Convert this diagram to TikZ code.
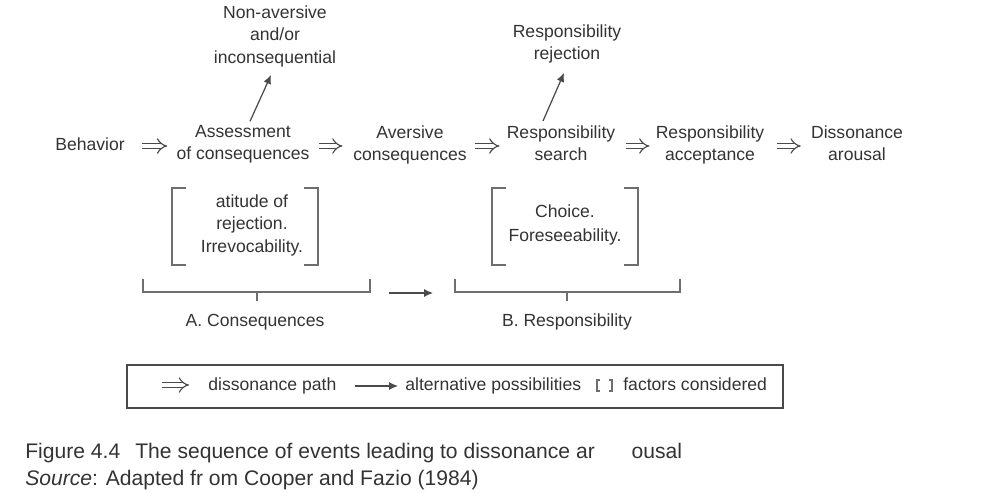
\documentclass[tikz,border=0pt]{standalone}
\usepackage{fontspec}
\setmainfont{Liberation Sans}
\usetikzlibrary{arrows.meta}
\definecolor{ink}{HTML}{333333}
\definecolor{rule}{HTML}{4A4A4A}

\begin{document}
\begin{tikzpicture}[x=0.2mm,y=-0.2mm]
\tikzset{
  lbl/.style={font=\fontsize{10}{12.5}\selectfont, align=center, text=ink, inner sep=0pt,
    execute at begin node=\strut, execute at end node=\strut},
  captext/.style={font=\fontsize{12}{14}\selectfont, text=ink, inner sep=0pt, anchor=base west},
  dpath/.style={draw=rule, line width=0.65pt, double distance=2.4pt, -{Implies}},
  alt/.style={draw=rule, line width=0.7pt, -{Latex[length=5pt,width=4.5pt]}},
  brk/.style={draw=rule!80, line width=0.8pt}
}
\useasboundingbox (0,0) rectangle (1000,493);

\node[lbl] (beh) at (90,146) {Behavior};
\node[lbl] (ac) at (243,146) {Assessment\\of consequences};
\node[lbl] (av) at (410,146) {Aversive\\consequences};
\node[lbl] (rs) at (561,146) {Responsibility\\search};
\node[lbl] (ra) at (710,146) {Responsibility\\acceptance};
\node[lbl] (da) at (857,146) {Dissonance\\arousal};

\node[lbl, font=\fontsize{10}{13}\selectfont] (nonav) at (275,38) {Non-aversive\\and/or\\inconsequential};
\node[lbl] (rej) at (567,45) {Responsibility\\rejection};

\draw[dpath, shorten <=3.4mm, shorten >=1.8mm] (beh) -- (ac);
\draw[dpath, shorten <=1.8mm, shorten >=2.1mm] (ac) -- (av);
\draw[dpath, shorten <=1.5mm, shorten >=1.4mm] (av) -- (rs);
\draw[dpath, shorten <=2mm, shorten >=1.2mm] (rs) -- (ra);
\draw[dpath, shorten <=2.4mm, shorten >=2mm] (ra) -- (da);

\draw[alt] ([shift={(7,-4)}]ac.north) -- ([shift={(-4,4)}]nonav.south);
\draw[alt] ([shift={(-18,-4)}]rs.north) -- ([shift={(-3,7)}]rej.south);

\node[lbl, font=\fontsize{10}{13}\selectfont] (fa) at (252,227) {atitude of\\rejection.\\Irrevocability.};
\node[lbl, font=\fontsize{10}{13.5}\selectfont] (fb) at (565,227) {Choice.\\Foreseeability.};

\draw[brk] (186,188) -- (172,188) -- (172,265) -- (186,265);
\draw[brk] (304,188) -- (318,188) -- (318,265) -- (304,265);
\draw[brk] (506,188) -- (492,188) -- (492,265) -- (506,265);
\draw[brk] (624,188) -- (638,188) -- (638,265) -- (624,265);

\node[lbl] (ca) at (255,322) {A. Consequences};
\node[lbl] (cb) at (567,322) {B. Responsibility};

\draw[brk] (143,279) -- (143,292) -- (370,292) -- (370,279);
\draw[brk] (257,292) -- (257,301);
\draw[brk] (455,279) -- (455,292) -- (680,292) -- (680,279);
\draw[brk] (567,292) -- (567,301);

\coordinate (g1) at (389,293);
\coordinate (g2) at (433,293);
\draw[alt] (g1) -- (g2);

\node[draw=rule, line width=0.8pt, minimum width=656*0.2mm, minimum height=43*0.2mm, inner sep=0pt] (key) at (455,386.5) {};
\coordinate (k1) at (162,385);
\coordinate (k2) at (189,385);
\draw[dpath] (k1) -- (k2);
\node[lbl, anchor=base west] (kd) at (208,390) {dissonance path};
\coordinate (k3) at (355,386);
\coordinate (k4) at (398,386);
\draw[alt] (k3) -- (k4);
\node[lbl, anchor=base west] (ka) at (405,390) {alternative possibilities};
\draw[brk, line width=0.6pt] (600,380) -- (597,380) -- (597,391) -- (600,391);
\draw[brk, line width=0.6pt] (609,380) -- (612,380) -- (612,391) -- (609,391);
\node[lbl, anchor=base west] (kf) at (623,390) {factors considered};

\node[captext] (fig) at (25,458) {Figure 4.4};
\node[captext] (title) at (135,458) {The sequence of events leading to dissonance ar\hspace{21pt}ousal};
\node[captext] (src) at (25,485) {\textit{Source}: Adapted fr om Cooper and Fazio (1984)};

\end{tikzpicture}
\end{document}
